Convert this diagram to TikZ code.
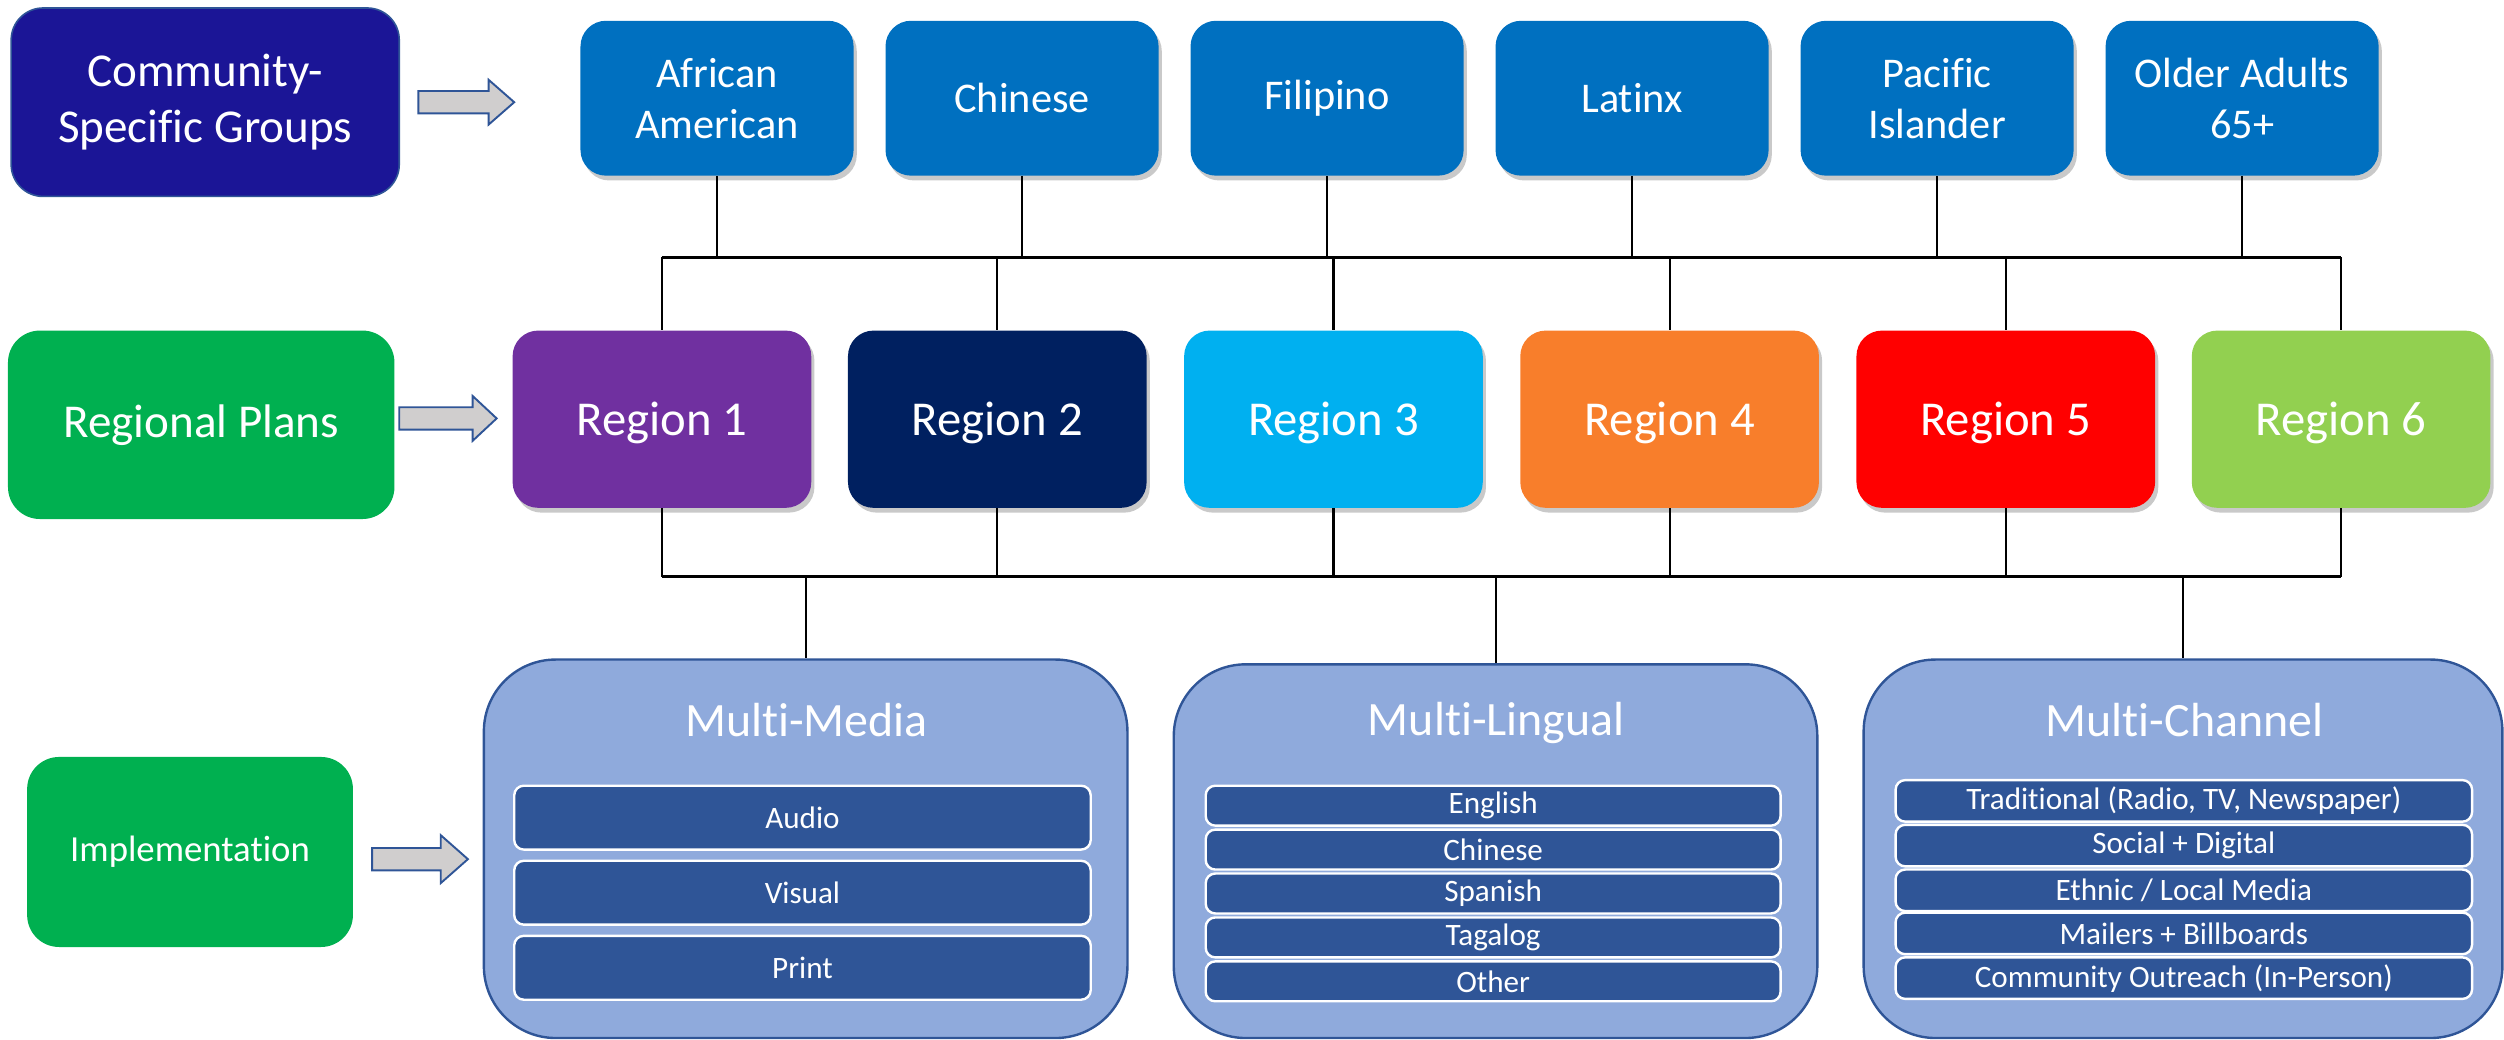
\documentclass[tikz,border=0pt]{standalone}
\usepackage{fontspec}
\setmainfont[Ligatures=NoCommon]{Carlito}
\usetikzlibrary{shadows}
\definecolor{cNavy}{HTML}{1B1596}
\definecolor{cEdge}{HTML}{2F5597}
\definecolor{cBlue}{HTML}{0070C0}
\definecolor{cGreen}{HTML}{00B050}
\definecolor{cR1}{HTML}{7030A0}
\definecolor{cR2}{HTML}{002060}
\definecolor{cR3}{HTML}{00B0F0}
\definecolor{cR4}{HTML}{F87E2B}
\definecolor{cR5}{HTML}{FF0000}
\definecolor{cR6}{HTML}{92D050}
\definecolor{cPanel}{HTML}{8FAADC}
\definecolor{cBar}{HTML}{2F5597}
\definecolor{cArrow}{HTML}{D0CECE}
\begin{document}
\begin{tikzpicture}[x=1pt,y=-1pt,
  shade/.style={drop shadow={shadow xshift=2pt,shadow yshift=-3pt,opacity=.3,fill=black!70}},
  lab/.style={rounded corners=20pt,text=white,align=center,inner sep=0pt},
  grp/.style={fill=cBlue,rounded corners=16pt,minimum width=171pt,minimum height=97pt,
    text=white,align=center,inner sep=0pt,font=\fontsize{26.5}{32}\selectfont,shade},
  reg/.style={rounded corners=16pt,minimum width=187pt,minimum height=111pt,text depth=0pt,
    text=white,inner sep=0pt,font=\fontsize{30.5}{36}\selectfont,shade},
  panel/.style={fill=cPanel,draw=cEdge,line width=1.5pt,rounded corners=45pt,inner sep=0pt},
  ptitle/.style={text=white,font=\fontsize{30}{36}\selectfont,inner sep=0pt},
  bar/.style={fill=cBar,draw=white,line width=1.5pt,rounded corners=6pt,minimum width=361pt,
    text=white,inner sep=0pt,font=\fontsize{19.5}{23}\selectfont},
  conn/.style={draw=black,line width=1.3pt},
  bus/.style={draw=black,line width=1.9pt},
  barrow/.style={fill=cArrow,draw=cEdge,line width=1.2pt,line join=miter}]
\useasboundingbox (0,0) rectangle (1568,651);

% left labels
\node[lab,fill=cNavy,draw=cEdge,line width=1pt,minimum width=243pt,minimum height=118pt,
  font=\fontsize{29.5}{35}\selectfont] (csg) at (128.5,64) {Community-\\Specific Groups};
\node[lab,fill=cGreen,minimum width=242pt,minimum height=118pt,
  font=\fontsize{29.5}{35}\selectfont] (rp) at (126,266) {Regional Plans};
\node[lab,fill=cGreen,minimum width=204pt,minimum height=119pt,
  font=\fontsize{23}{28}\selectfont] (impl) at (119,533.5) {Implementation};

% block arrows
\draw[barrow] (262,57) -- (306,57) -- (306,50) -- (322,64) -- (306,78) -- (306,71) -- (262,71) -- cycle;
\draw[barrow] (250,255) -- (296,255) -- (296,248) -- (311,262) -- (296,276) -- (296,269) -- (250,269) -- cycle;
\draw[barrow] (233,531) -- (276,531) -- (276,523) -- (293,538) -- (276,553) -- (276,545) -- (233,545) -- cycle;

% community groups
\node[grp] (g1) at (449,61.5) {African\\American};
\node[grp] (g2) at (640,61.5) {Chinese};
\node[grp] (g3) at (831,61.5) {Filipino};
\node[grp] (g4) at (1022,61.5) {Latinx};
\node[grp] (g5) at (1213,61.5) {Pacific\\Islander};
\node[grp] (g6) at (1404,61.5) {Older Adults\\65+};

% regions
\node[reg,fill=cR1] (r1) at (414.5,262.5) {Region 1};
\node[reg,fill=cR2] (r2) at (624.5,262.5) {Region 2};
\node[reg,fill=cR3] (r3) at (835,262.5) {Region 3};
\node[reg,fill=cR4] (r4) at (1045.5,262.5) {Region 4};
\node[reg,fill=cR5] (r5) at (1256,262.5) {Region 5};
\node[reg,fill=cR6] (r6) at (1466,262.5) {Region 6};

% panels
\node[panel,minimum width=403pt,minimum height=237pt] (mm) at (504.5,531.5) {};
\node[panel,minimum width=403pt,minimum height=234pt] (ml) at (936.5,533) {};
\node[panel,minimum width=400pt,minimum height=237pt] (mc) at (1367,531.5) {};

\node[ptitle] (mmt) at (505,451) {Multi-Media};
\node[ptitle] (mlt) at (937,453) {Multi-Lingual};
\node[ptitle] (mct) at (1368,451) {Multi-Channel};

\node[bar,minimum height=40pt] (mm1) at (502.5,512) {Audio};
\node[bar,minimum height=40pt] (mm2) at (502.5,559) {Visual};
\node[bar,minimum height=40pt] (mm3) at (502.5,606) {Print};

\node[bar,minimum width=360pt,minimum height=25pt] (ml1) at (935,504.5) {English};
\node[bar,minimum width=360pt,minimum height=25pt] (ml2) at (935,532) {Chinese};
\node[bar,minimum width=360pt,minimum height=25pt] (ml3) at (935,559.5) {Spanish};
\node[bar,minimum width=360pt,minimum height=25pt] (ml4) at (935,587) {Tagalog};
\node[bar,minimum width=360pt,minimum height=25pt] (ml5) at (935,614.5) {Other};

\node[bar,minimum height=26pt] (mc1) at (1367.5,501.5) {Traditional (Radio, TV, Newspaper)};
\node[bar,minimum height=26pt] (mc2) at (1367.5,529.5) {Social + Digital};
\node[bar,minimum height=26pt] (mc3) at (1367.5,557.5) {Ethnic / Local Media};
\node[bar,minimum height=26pt] (mc4) at (1367.5,584.5) {Mailers + Billboards};
\node[bar,minimum height=26pt] (mc5) at (1367.5,612.5) {Community Outreach (In-Person)};

% connectors
\coordinate (bus1) at (0,161);
\coordinate (bus2) at (0,361);
\foreach \g in {g1,g2,g3,g4,g5,g6}
  \draw[conn] (\g.south) -- (\g.south |- bus1);
\draw[bus] (r1.north |- bus1) -- (r6.north |- bus1);
\foreach \r in {r1,r2,r3,r4,r5,r6}{
  \draw[conn] (\r.north |- bus1) -- (\r.north);
  \draw[conn] (\r.south) -- (\r.south |- bus2);
}
\draw[bus] (r1.south |- bus2) -- (r6.south |- bus2);
\foreach \p in {mm,ml,mc}
  \draw[conn] (\p.north |- bus2) -- (\p.north);
\end{tikzpicture}
\end{document}
